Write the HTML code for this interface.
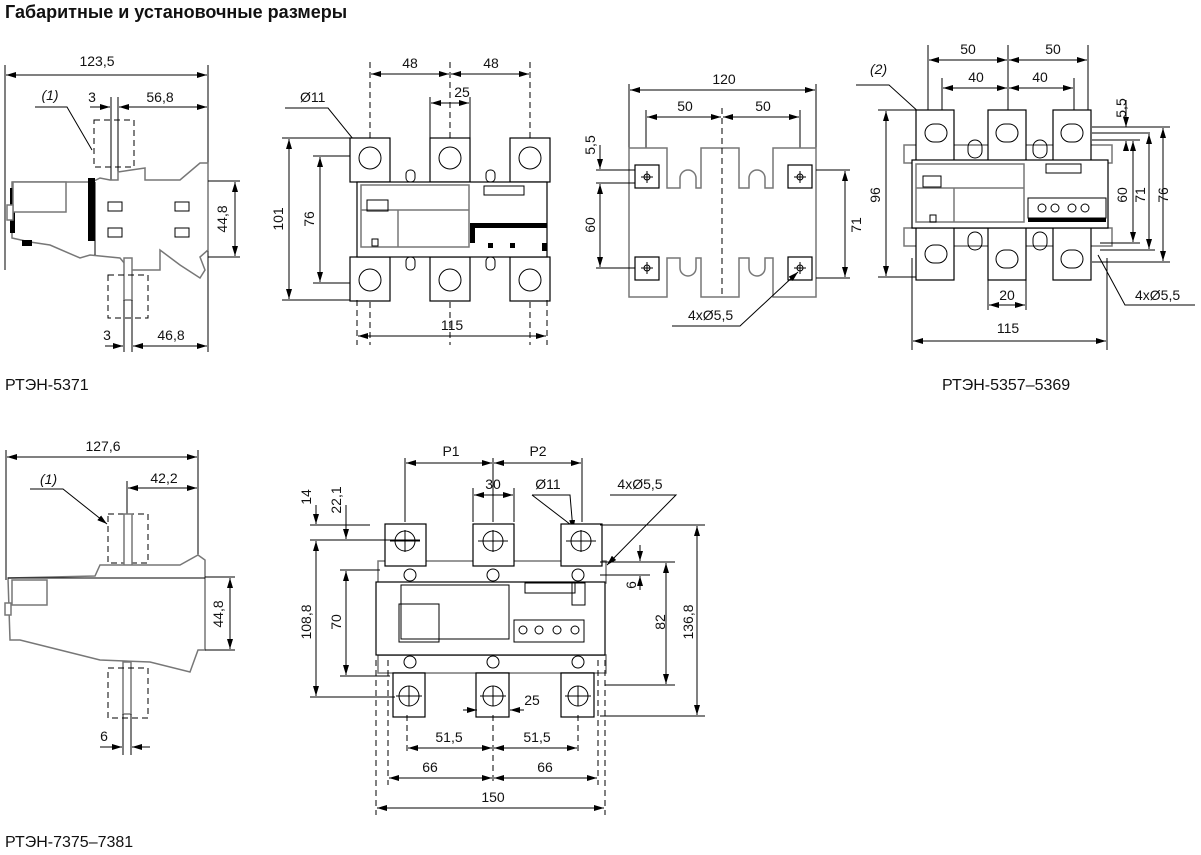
<!DOCTYPE html>
<html><head><meta charset="utf-8"><style>
html,body{margin:0;padding:0;background:#fff;}
svg{display:block;font-family:"Liberation Sans",sans-serif;}
text{font-size:14px;fill:#111;}
.d{stroke:#000;stroke-width:1;fill:none;}
.a{stroke:#000;stroke-width:1;fill:none;marker-start:url(#ar);marker-end:url(#ar);}
.e{stroke:#000;stroke-width:1;fill:none;marker-end:url(#ar);}
.dash{stroke:#000;stroke-width:1;fill:none;stroke-dasharray:6,4;}
.g{stroke:#777;stroke-width:1.5;fill:#fff;}
.k{stroke:#000;stroke-width:1.2;fill:#fff;}
</style></head><body>
<svg width="1201" height="855" viewBox="0 0 1201 855">
<defs>
<marker id="ar" viewBox="0 0 10 6" refX="10" refY="3" markerWidth="10" markerHeight="6" orient="auto-start-reverse" markerUnits="userSpaceOnUse"><path d="M0,0L10,3L0,6Z" fill="#000"/></marker>
</defs>
<text x="5" y="18" style="font-size:18px;font-weight:bold">Габаритные и установочные размеры</text>

<!-- ===== Drawing 1 ===== -->
<line class="d" x1="5" y1="65" x2="5" y2="270"/>
<line class="d" x1="208" y1="65" x2="208" y2="352"/>
<line class="a" x1="6" y1="75" x2="207" y2="75"/>
<text x="97" y="66" text-anchor="middle">123,5</text>
<text x="50" y="100" text-anchor="middle" style="font-style:italic">(1)</text>
<polyline class="d" points="35,107 67,107 92,150"/>
<text x="92" y="102" text-anchor="middle">3</text>
<text x="160" y="102" text-anchor="middle">56,8</text>
<line class="d" x1="111" y1="97" x2="111" y2="180"/><line class="d" x1="118" y1="97" x2="118" y2="180"/>
<line class="e" x1="90" y1="107" x2="110" y2="107"/><line class="a" x1="119" y1="107" x2="207" y2="107"/>
<rect class="dash" x="94" y="120" width="40" height="47"/>
<polygon class="g" points="118,172 145,168 145,180 180,180 200,163 208,163 208,182 208,250 200,257 205,270 200,278 180,265 160,250 160,270 130,270 120,258 90,255 80,258 50,245 30,242 12,238 12,182 92,182 100,178 110,180 118,180"/>
<rect x="10" y="188" width="5" height="45" fill="#000"/>
<rect x="88" y="178" width="7" height="63" fill="#000"/>
<rect x="13" y="182" width="53" height="30" class="g"/>
<rect x="7" y="205" width="6" height="15" class="g"/>
<rect x="22" y="240" width="10" height="6" fill="#000"/>
<rect x="108" y="202" width="14" height="9" class="d"/><rect x="175" y="202" width="14" height="9" class="d"/>
<rect x="108" y="228" width="14" height="9" class="d"/><rect x="175" y="228" width="14" height="9" class="d"/>
<line class="d" x1="95" y1="182" x2="95" y2="255"/>
<rect class="g" x="124" y="258" width="8" height="42"/>
<rect class="dash" x="108" y="275" width="40" height="43"/>
<line class="d" x1="208" y1="181" x2="240" y2="181"/><line class="d" x1="208" y1="257" x2="240" y2="257"/>
<line class="a" x1="235" y1="182" x2="235" y2="256"/>
<text transform="translate(227,219) rotate(-90)" text-anchor="middle">44,8</text>
<line class="d" x1="124" y1="300" x2="124" y2="352"/><line class="d" x1="132" y1="300" x2="132" y2="352"/>
<line class="e" x1="105" y1="346" x2="123" y2="346"/><line class="a" x1="133" y1="346" x2="207" y2="346"/>
<text x="107" y="340" text-anchor="middle">3</text>
<text x="171" y="340" text-anchor="middle">46,8</text>
<text x="5" y="390" style="font-size:16px">РТЭН-5371</text>

<!-- ===== Drawing 2 ===== -->
<line class="dash" x1="370" y1="62" x2="370" y2="345"/>
<line class="dash" x1="450" y1="62" x2="450" y2="345"/>
<line class="dash" x1="530" y1="62" x2="530" y2="345"/>
<line class="a" x1="371" y1="74" x2="449" y2="74"/><line class="a" x1="451" y1="74" x2="529" y2="74"/>
<text x="410" y="68" text-anchor="middle">48</text><text x="491" y="68" text-anchor="middle">48</text>
<line class="d" x1="430" y1="97" x2="430" y2="138"/><line class="d" x1="470" y1="97" x2="470" y2="138"/>
<line class="a" x1="431" y1="103" x2="469" y2="103"/>
<text x="462" y="97" text-anchor="middle">25</text>
<text x="300" y="102">Ø11</text>
<polyline class="e" points="285,108 328,108 362,150"/>
<g class="k">
<rect x="350" y="138" width="40" height="44"/><rect x="430" y="138" width="40" height="44"/><rect x="510" y="138" width="40" height="44"/>
<rect x="350" y="257" width="40" height="44"/><rect x="430" y="257" width="40" height="44"/><rect x="510" y="257" width="40" height="44"/>
</g>
<g class="d">
<circle cx="370" cy="158" r="11"/><circle cx="450" cy="158" r="11"/><circle cx="530" cy="158" r="11"/>
<circle cx="370" cy="280" r="11"/><circle cx="450" cy="280" r="11"/><circle cx="530" cy="280" r="11"/>
</g>
<rect class="k" x="357" y="182" width="190" height="75"/>
<rect class="g" x="361" y="185" width="108" height="62"/>
<line class="g" x1="361" y1="210" x2="469" y2="210"/><line class="g" x1="398" y1="210" x2="398" y2="247"/>
<rect class="d" x="367" y="200" width="21" height="11"/>
<rect class="d" x="372" y="239" width="6" height="7"/>
<rect class="d" x="484" y="186" width="40" height="9"/>
<rect x="470" y="223" width="77" height="5" fill="#000"/>
<rect x="470" y="228" width="5" height="15" fill="#000"/><rect x="488" y="243" width="5" height="5" fill="#000"/><rect x="510" y="243" width="5" height="5" fill="#000"/><rect x="542" y="243" width="5" height="8" fill="#000"/>
<rect class="d" x="406" y="170" width="9" height="12" rx="4"/><rect class="d" x="486" y="170" width="9" height="12" rx="4"/>
<rect class="d" x="406" y="257" width="9" height="13" rx="4"/><rect class="d" x="486" y="257" width="9" height="13" rx="4"/>
<line class="d" x1="282" y1="138" x2="350" y2="138"/><line class="d" x1="282" y1="300" x2="350" y2="300"/>
<line class="a" x1="289" y1="139" x2="289" y2="299"/>
<text transform="translate(283,219) rotate(-90)" text-anchor="middle">101</text>
<line class="d" x1="313" y1="156" x2="350" y2="156"/><line class="d" x1="313" y1="283" x2="350" y2="283"/>
<line class="a" x1="320" y1="157" x2="320" y2="282"/>
<text transform="translate(314,219) rotate(-90)" text-anchor="middle">76</text>
<line class="dash" x1="357" y1="300" x2="357" y2="345"/><line class="dash" x1="547" y1="300" x2="547" y2="345"/>
<line class="a" x1="358" y1="336" x2="546" y2="336"/>
<text x="452" y="330" text-anchor="middle">115</text>

<!-- ===== Drawing 3 ===== -->
<line class="d" x1="629" y1="84" x2="629" y2="160"/><line class="d" x1="816" y1="84" x2="816" y2="160"/>
<line class="a" x1="630" y1="90" x2="815" y2="90"/>
<text x="724" y="84" text-anchor="middle">120</text>
<line class="d" x1="646" y1="110" x2="646" y2="180"/><line class="d" x1="800" y1="110" x2="800" y2="180"/>
<line class="a" x1="647" y1="117" x2="721" y2="117"/><line class="a" x1="723" y1="117" x2="799" y2="117"/>
<text x="685" y="111" text-anchor="middle">50</text><text x="763" y="111" text-anchor="middle">50</text>
<path class="g" d="M629,148 H667 V188 H680 V178 A8,8 0 0 1 696,178 V188 H701 V148 H739 V188 H749 V178 A8,8 0 0 1 765,178 V188 H773 V148 H816 V297 H773 V258 H765 V268 A8,8 0 0 1 749,268 V258 H739 V297 H701 V258 H696 V268 A8,8 0 0 1 680,268 V258 H667 V297 H629 Z"/>
<line class="dash" x1="722" y1="108" x2="722" y2="297"/>
<g class="k"><rect x="635" y="165" width="24" height="23"/><rect x="788" y="165" width="24" height="23"/><rect x="635" y="257" width="24" height="23"/><rect x="788" y="257" width="24" height="23"/></g>
<g class="d"><circle cx="647" cy="177" r="3"/><circle cx="800" cy="177" r="3"/><circle cx="647" cy="268" r="3"/><circle cx="800" cy="268" r="3"/>
<path d="M641,177h12M647,171v12M794,177h12M800,171v12M641,268h12M647,262v12M794,268h12M800,262v12"/></g>
<line class="d" x1="596" y1="170" x2="635" y2="170"/><line class="d" x1="596" y1="183" x2="635" y2="183"/>
<line class="e" x1="600" y1="145" x2="600" y2="169"/><line class="a" x1="600" y1="184" x2="600" y2="267"/>
<line class="d" x1="596" y1="268" x2="635" y2="268"/>
<text transform="translate(595,145) rotate(-90)" text-anchor="middle">5,5</text>
<text transform="translate(595,225) rotate(-90)" text-anchor="middle">60</text>
<line class="d" x1="816" y1="170" x2="850" y2="170"/><line class="d" x1="816" y1="278" x2="850" y2="278"/>
<line class="a" x1="845" y1="171" x2="845" y2="277"/>
<text transform="translate(861,225) rotate(-90)" text-anchor="middle">71</text>
<text x="688" y="320">4xØ5,5</text>
<polyline class="e" points="672,326 740,326 798,272"/>

<!-- ===== Drawing 4 ===== -->
<line class="d" x1="928" y1="45" x2="928" y2="205"/><line class="d" x1="1008" y1="45" x2="1008" y2="205"/><line class="d" x1="1088" y1="45" x2="1088" y2="205"/>
<line class="a" x1="929" y1="60" x2="1007" y2="60"/><line class="a" x1="1009" y1="60" x2="1087" y2="60"/>
<text x="968" y="54" text-anchor="middle">50</text><text x="1053" y="54" text-anchor="middle">50</text>
<line class="a" x1="943" y1="88" x2="1007" y2="88"/><line class="a" x1="1009" y1="88" x2="1073" y2="88"/>
<line class="d" x1="942" y1="78" x2="942" y2="150"/><line class="d" x1="1074" y1="78" x2="1074" y2="150"/>
<text x="976" y="82" text-anchor="middle">40</text><text x="1040" y="82" text-anchor="middle">40</text>
<text x="870" y="74" style="font-style:italic">(2)</text>
<polyline class="d" points="856,85 889,85 932,124"/>
<rect class="g" x="904" y="145" width="208" height="18"/>
<rect class="g" x="904" y="228" width="208" height="18"/>
<g class="k">
<rect x="916" y="110" width="38" height="52"/><rect x="988" y="110" width="38" height="52"/><rect x="1053" y="110" width="38" height="52"/>
<rect x="916" y="228" width="38" height="52"/><rect x="988" y="228" width="38" height="52"/><rect x="1053" y="228" width="38" height="52"/>
</g>
<g class="d">
<rect x="925" y="124" width="22" height="18" rx="9"/><rect x="996" y="124" width="22" height="18" rx="9"/><rect x="1061" y="124" width="22" height="18" rx="9"/>
<rect x="925" y="245" width="22" height="18" rx="9"/><rect x="996" y="250" width="22" height="18" rx="9"/><rect x="1061" y="250" width="22" height="18" rx="9"/>
<rect x="968" y="140" width="14" height="18" rx="7"/><rect x="1033" y="140" width="14" height="18" rx="7"/>
<rect x="968" y="232" width="14" height="18" rx="7"/><rect x="1033" y="232" width="14" height="18" rx="7"/>
</g>
<rect class="k" x="912" y="160" width="196" height="68"/>
<rect class="g" x="916" y="164" width="108" height="58"/><line class="g" x1="954" y1="188" x2="954" y2="222"/><line class="g" x1="916" y1="188" x2="1024" y2="188"/>
<rect class="d" x="923" y="176" width="18" height="11"/><rect class="d" x="930" y="215" width="6" height="7"/>
<rect class="d" x="1046" y="164" width="35" height="9"/>
<rect class="d" x="1028" y="198" width="78" height="20"/>
<g class="d"><circle cx="1042" cy="208" r="4"/><circle cx="1055" cy="208" r="4"/><circle cx="1072" cy="208" r="4"/><circle cx="1085" cy="208" r="4"/></g>
<rect x="1028" y="218" width="78" height="4" fill="#000"/>
<line class="d" x1="878" y1="110" x2="916" y2="110"/><line class="d" x1="878" y1="277" x2="916" y2="277"/>
<line class="a" x1="886" y1="111" x2="886" y2="276"/>
<text transform="translate(880,195) rotate(-90)" text-anchor="middle">96</text>
<line class="d" x1="1092" y1="127" x2="1170" y2="127"/><line class="d" x1="1092" y1="133" x2="1150" y2="133"/><line class="d" x1="1092" y1="140" x2="1140" y2="140"/>
<line class="d" x1="1100" y1="243" x2="1140" y2="243"/><line class="d" x1="1100" y1="250" x2="1155" y2="250"/><line class="d" x1="1092" y1="262" x2="1170" y2="262"/>
<line class="e" x1="1126" y1="100" x2="1126" y2="127"/><line class="e" x1="1126" y1="150" x2="1126" y2="141"/>
<line class="a" x1="1133" y1="141" x2="1133" y2="242"/>
<line class="a" x1="1149" y1="134" x2="1149" y2="249"/>
<line class="a" x1="1163" y1="128" x2="1163" y2="261"/>
<text transform="translate(1126,108) rotate(-90)" text-anchor="middle">5,5</text>
<text transform="translate(1127,195) rotate(-90)" text-anchor="middle">60</text>
<text transform="translate(1145,195) rotate(-90)" text-anchor="middle">71</text>
<text transform="translate(1168,195) rotate(-90)" text-anchor="middle">76</text>
<line class="d" x1="988" y1="280" x2="988" y2="310"/><line class="d" x1="1026" y1="280" x2="1026" y2="310"/>
<line class="a" x1="989" y1="305" x2="1025" y2="305"/>
<text x="1007" y="300" text-anchor="middle">20</text>
<line class="d" x1="912" y1="258" x2="912" y2="350"/><line class="d" x1="1107" y1="258" x2="1107" y2="350"/>
<line class="a" x1="913" y1="341" x2="1106" y2="341"/>
<text x="1008" y="333" text-anchor="middle">115</text>
<text x="1135" y="300">4xØ5,5</text>
<polyline class="d" points="1195,305 1125,305 1098,255"/>
<text x="942" y="390" style="font-size:16px">РТЭН-5357–5369</text>

<!-- ===== Drawing 5 ===== -->
<line class="d" x1="6" y1="450" x2="6" y2="580"/><line class="d" x1="198" y1="450" x2="198" y2="650"/>
<line class="a" x1="7" y1="457" x2="197" y2="457"/>
<text x="103" y="451" text-anchor="middle">127,6</text>
<text x="40" y="484" style="font-style:italic">(1)</text>
<polyline class="e" points="30,489 63,489 107,524"/>
<line class="d" x1="127" y1="481" x2="127" y2="575"/>
<line class="a" x1="128" y1="488" x2="197" y2="488"/>
<text x="164" y="483" text-anchor="middle">42,2</text>
<rect class="dash" x="108" y="514" width="40" height="49"/>
<rect class="g" x="124" y="514" width="8" height="62"/>
<polygon class="g" points="8,578 95,576 100,565 180,565 198,555 205,560 205,650 198,650 190,672 150,662 100,660 60,650 40,645 20,640 10,640"/>
<line class="d" x1="8" y1="578" x2="205" y2="578"/>
<rect class="g" x="12" y="580" width="35" height="25"/>
<rect class="g" x="5" y="603" width="6" height="12"/>
<line class="d" x1="205" y1="577" x2="235" y2="577"/><line class="d" x1="205" y1="650" x2="235" y2="650"/>
<line class="a" x1="230" y1="578" x2="230" y2="649"/>
<text transform="translate(223,614) rotate(-90)" text-anchor="middle">44,8</text>
<rect class="g" x="123" y="662" width="8" height="52"/>
<rect class="dash" x="108" y="668" width="40" height="50"/>
<line class="d" x1="123" y1="714" x2="123" y2="755"/><line class="d" x1="131" y1="714" x2="131" y2="755"/>
<line class="e" x1="100" y1="747" x2="122" y2="747"/><line class="e" x1="150" y1="747" x2="132" y2="747"/>
<text x="104" y="741" text-anchor="middle">6</text>
<text x="5" y="847" style="font-size:16px">РТЭН-7375–7381</text>

<!-- ===== Drawing 6 ===== -->
<line class="d" x1="405" y1="458" x2="405" y2="522"/><line class="d" x1="493" y1="458" x2="493" y2="522"/><line class="d" x1="582" y1="458" x2="582" y2="522"/>
<line class="a" x1="406" y1="463" x2="492" y2="463"/><line class="a" x1="494" y1="463" x2="581" y2="463"/>
<text x="451" y="456" text-anchor="middle">P1</text><text x="538" y="456" text-anchor="middle">P2</text>
<line class="d" x1="473" y1="488" x2="473" y2="522"/><line class="d" x1="514" y1="488" x2="514" y2="522"/>
<line class="a" x1="474" y1="495" x2="513" y2="495"/>
<text x="493" y="489" text-anchor="middle">30</text>
<text x="548" y="489" text-anchor="middle">Ø11</text>
<text x="640" y="489" text-anchor="middle">4xØ5,5</text>
<polyline class="e" points="532,495 570,495 573,530"/>
<line class="d" x1="532" y1="495" x2="575" y2="528"/>
<polyline class="e" points="610,495 676,495 607,565"/>
<rect class="g" x="378" y="561" width="228" height="22"/>
<rect class="g" x="378" y="655" width="228" height="18"/>
<g class="k">
<rect x="385" y="524" width="41" height="42"/><rect x="473" y="524" width="41" height="42"/><rect x="561" y="524" width="41" height="42"/>
<rect x="393" y="673" width="32" height="44"/><rect x="476" y="673" width="33" height="44"/><rect x="561" y="673" width="33" height="44"/>
</g>
<g class="d">
<circle cx="405" cy="541" r="10"/><circle cx="493" cy="541" r="10"/><circle cx="581" cy="541" r="10"/>
<circle cx="409" cy="696" r="10"/><circle cx="493" cy="696" r="10"/><circle cx="578" cy="696" r="10"/>
<path d="M390,541h30M405,530v22M478,541h30M493,530v22M566,541h30M581,530v22M396,696h26M409,686v20M480,696h26M493,686v20M565,696h26M578,686v20"/>
<circle cx="410" cy="575" r="6"/><circle cx="493" cy="575" r="6"/><circle cx="578" cy="575" r="6"/>
<circle cx="410" cy="662" r="6"/><circle cx="493" cy="662" r="6"/><circle cx="578" cy="662" r="6"/>
</g>
<rect class="k" x="376" y="582" width="229" height="73"/>
<rect class="d" x="401" y="585" width="108" height="54"/>
<rect class="d" x="399" y="604" width="40" height="38"/>
<rect class="d" x="525" y="583" width="50" height="10"/><rect class="d" x="572" y="583" width="13" height="22"/>
<rect class="d" x="514" y="620" width="70" height="22"/>
<g class="d"><circle cx="523" cy="630" r="4"/><circle cx="539" cy="630" r="4"/><circle cx="557" cy="630" r="4"/><circle cx="575" cy="630" r="4"/></g>
<line class="d" x1="310" y1="525" x2="370" y2="525"/><line class="d" x1="310" y1="540" x2="420" y2="540"/>
<line class="d" x1="340" y1="570" x2="380" y2="570"/><line class="d" x1="340" y1="676" x2="390" y2="676"/>
<line class="d" x1="310" y1="697" x2="395" y2="697"/>
<line class="e" x1="316" y1="505" x2="316" y2="524"/><line class="a" x1="316" y1="541" x2="316" y2="696"/>
<line class="e" x1="346" y1="505" x2="346" y2="539"/><line class="a" x1="346" y1="571" x2="346" y2="675"/>
<text transform="translate(311,497) rotate(-90)" text-anchor="middle">14</text>
<text transform="translate(341,500) rotate(-90)" text-anchor="middle">22,1</text>
<text transform="translate(311,622) rotate(-90)" text-anchor="middle">108,8</text>
<text transform="translate(341,622) rotate(-90)" text-anchor="middle">70</text>
<line class="d" x1="600" y1="562" x2="675" y2="562"/><line class="d" x1="600" y1="575" x2="650" y2="575"/>
<line class="d" x1="605" y1="685" x2="675" y2="685"/>
<line class="d" x1="600" y1="525" x2="705" y2="525"/><line class="d" x1="600" y1="716" x2="705" y2="716"/>
<line class="e" x1="640" y1="545" x2="640" y2="561"/><line class="e" x1="640" y1="590" x2="640" y2="576"/>
<text transform="translate(636,585) rotate(-90)" text-anchor="middle">6</text>
<line class="a" x1="666" y1="563" x2="666" y2="684"/>
<text transform="translate(665,622) rotate(-90)" text-anchor="middle">82</text>
<line class="a" x1="697" y1="526" x2="697" y2="715"/>
<text transform="translate(693,622) rotate(-90)" text-anchor="middle">136,8</text>
<line class="e" x1="463" y1="710" x2="477" y2="710"/><line class="e" x1="524" y1="710" x2="510" y2="710"/>
<text x="532" y="705" text-anchor="middle">25</text>
<line class="dash" x1="376" y1="660" x2="376" y2="815"/><line class="dash" x1="388" y1="660" x2="388" y2="785"/>
<line class="dash" x1="407" y1="715" x2="407" y2="755"/><line class="dash" x1="493" y1="715" x2="493" y2="785"/>
<line class="dash" x1="578" y1="715" x2="578" y2="755"/><line class="dash" x1="598" y1="660" x2="598" y2="785"/>
<line class="dash" x1="605" y1="660" x2="605" y2="815"/>
<line class="a" x1="408" y1="748" x2="492" y2="748"/><line class="a" x1="494" y1="748" x2="577" y2="748"/>
<text x="449" y="742" text-anchor="middle">51,5</text><text x="537" y="742" text-anchor="middle">51,5</text>
<line class="a" x1="389" y1="778" x2="492" y2="778"/><line class="a" x1="494" y1="778" x2="597" y2="778"/>
<text x="430" y="772" text-anchor="middle">66</text><text x="545" y="772" text-anchor="middle">66</text>
<line class="a" x1="377" y1="808" x2="604" y2="808"/>
<text x="493" y="802" text-anchor="middle">150</text>
</svg>
</body></html>
